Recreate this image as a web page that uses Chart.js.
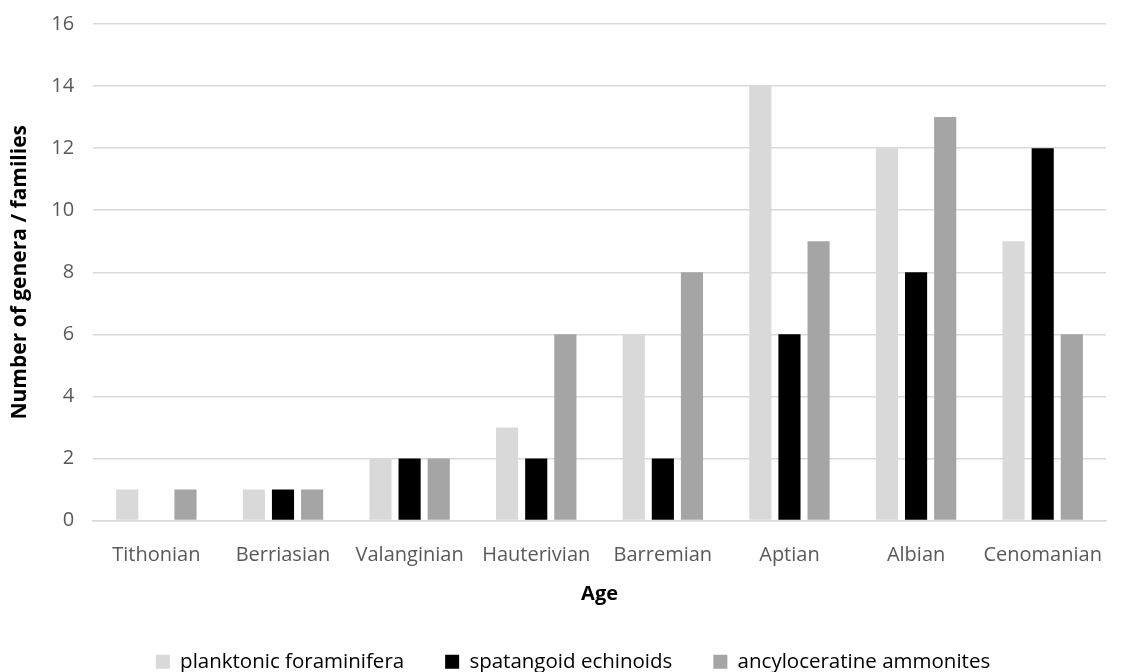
<!DOCTYPE html>
<html>
<head>
<meta charset="utf-8">
<script src="https://cdn.jsdelivr.net/npm/chart.js@4.4.0/dist/chart.umd.min.js"></script>
<style>
  html, body { margin: 0; padding: 0; background: #fff; overflow: hidden; }
  #wrap { width: 1132px; height: 672px; overflow: hidden; }
  #fossilChart { display: block; margin-top: -7px; }
</style>
</head>
<body>
<div id="wrap"><canvas id="fossilChart" width="1132" height="679"></canvas></div>
<script>
const ages = ['Tithonian', 'Berriasian', 'Valanginian', 'Hauterivian', 'Barremian', 'Aptian', 'Albian', 'Cenomanian'];
const planktonicForaminifera = [1, 1, 2, 3, 6, 14, 12, 9];
const spatangoidEchinoids = [0, 1, 2, 2, 2, 6, 8, 12];
const ancyloceratineAmmonites = [1, 1, 2, 6, 8, 9, 13, 6];

const font = "'Open Sans', 'Liberation Sans', sans-serif";

// legend in the original sits a bit right of the plot centre
const legendShift = {
  id: 'legendShift',
  afterLayout(chart) {
    chart.legend.left += 18;
    chart.legend.right += 18;
  }
};

const ctx = document.getElementById('fossilChart').getContext('2d');
const fossilChart = new Chart(ctx, {
  type: 'bar',
  data: {
    labels: ages,
    datasets: [{
      label: 'planktonic foraminifera',
      data: planktonicForaminifera,
      backgroundColor: '#d9d9d9'
    }, {
      label: 'spatangoid echinoids',
      data: spatangoidEchinoids,
      backgroundColor: '#000000'
    }, {
      label: 'ancyloceratine ammonites',
      data: ancyloceratineAmmonites,
      backgroundColor: '#a5a5a5'
    }]
  },
  options: {
    responsive: false,
    animation: false,
    devicePixelRatio: 1,
    categoryPercentage: 0.69,
    barPercentage: 0.76,
    layout: { padding: { left: 4, right: 26, top: -2, bottom: -10 } },
    plugins: {
      tooltip: { enabled: false },
      legend: {
        position: 'bottom',
        labels: {
          font: { family: font, size: 20.5 },
          color: '#000',
          boxWidth: 14,
          boxHeight: 14,
          padding: 41
        }
      }
    },
    scales: {
      x: {
        grid: { display: false },
        border: { color: '#d9d9d9', width: 1.5 },
        ticks: { font: { family: font, size: 20 }, color: '#595959', padding: 15 },
        title: { display: true, text: 'Age', font: { family: font, size: 20, weight: 'bold' }, color: '#000', padding: { top: 0 } }
      },
      y: {
        min: 0,
        max: 16,
        ticks: { stepSize: 2, font: { family: font, size: 20 }, color: '#595959', padding: 19 },
        grid: { color: '#d9d9d9', lineWidth: 1.5, drawTicks: false },
        border: { display: false },
        title: { display: true, text: 'Number of genera / families', font: { family: font, size: 21, weight: 'bold' }, color: '#000', padding: { top: 3, bottom: 0 } }
      }
    }
  },
  plugins: [legendShift]
});
</script>
</body>
</html>
